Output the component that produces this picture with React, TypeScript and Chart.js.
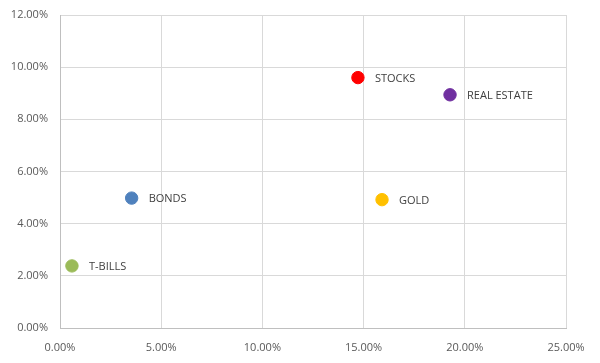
import React, { useEffect, useRef } from "react";
import { Chart, registerables } from "chart.js";

Chart.register(...registerables);

const labels = ["STOCKS", "REAL ESTATE", "GOLD", "BONDS", "T-BILLS"];
const xValues = [14.72, 19.27, 15.91, 3.54, 0.59];
const yValues = [9.6, 8.94, 4.92, 4.98, 2.38];
const colors = ["#FF0000", "#7030A0", "#FFC000", "#4F81BD", "#9BBB59"];

const labelPlugin = {
  id: "pointLabels",
  afterDatasetsDraw(chart: any) {
    const ctx = chart.ctx;
    ctx.save();
    ctx.font = "11px 'Open Sans', sans-serif";
    ctx.fillStyle = "#404040";
    ctx.textBaseline = "middle";
    ctx.textAlign = "left";
    chart.data.datasets.forEach((ds: any, i: number) => {
      const meta = chart.getDatasetMeta(i);
      meta.data.forEach((pt: any) => {
        ctx.fillText(ds.label, pt.x + 17, pt.y + 1);
      });
    });
    ctx.restore();
  },
};

export default function App() {
  const ref = useRef<HTMLCanvasElement>(null);
  useEffect(() => {
    document.body.style.margin = "0";
    const chart = new Chart(ref.current!, {
      type: "scatter",
      data: {
        datasets: labels.map((l, i) => ({
          label: l,
          data: [{ x: xValues[i], y: yValues[i] }],
          backgroundColor: colors[i],
          borderColor: colors[i],
          pointRadius: 6.2,
          pointHoverRadius: 6.2,
        })),
      },
      options: {
        animation: false,
        responsive: false,
        layout: { padding: { top: 15, right: 34, left: 0, bottom: 0 } },
        plugins: { legend: { display: false }, tooltip: { enabled: false } },
        scales: {
          x: {
            type: "linear",
            min: 0,
            max: 25,
            ticks: {
              stepSize: 5,
              padding: 13,
              color: "#595959",
              font: { family: "'Open Sans', sans-serif", size: 11 },
              callback: (v: any) => Number(v).toFixed(2) + "%",
            },
            grid: { color: "#D9D9D9", drawTicks: false },
            border: { color: "#BFBFBF" },
            afterFit: (s: any) => {
              s.height = 35;
              s.paddingLeft = 0;
              s.paddingRight = 0;
            },
          },
          y: {
            type: "linear",
            min: 0,
            max: 12,
            ticks: {
              stepSize: 2,
              padding: 12,
              color: "#595959",
              font: { family: "'Open Sans', sans-serif", size: 11 },
              callback: (v: any) => Number(v).toFixed(2) + "%",
            },
            grid: { color: "#D9D9D9", drawTicks: false },
            border: { color: "#BFBFBF" },
            afterFit: (s: any) => {
              s.width = 60;
              s.paddingTop = 0;
              s.paddingBottom = 0;
            },
          },
        },
      },
      plugins: [labelPlugin],
    });
    return () => chart.destroy();
  }, []);
  return (
    <div style={{ width: 600, height: 363, background: "#fff" }}>
      <canvas ref={ref} width={600} height={363} />
    </div>
  );
}
